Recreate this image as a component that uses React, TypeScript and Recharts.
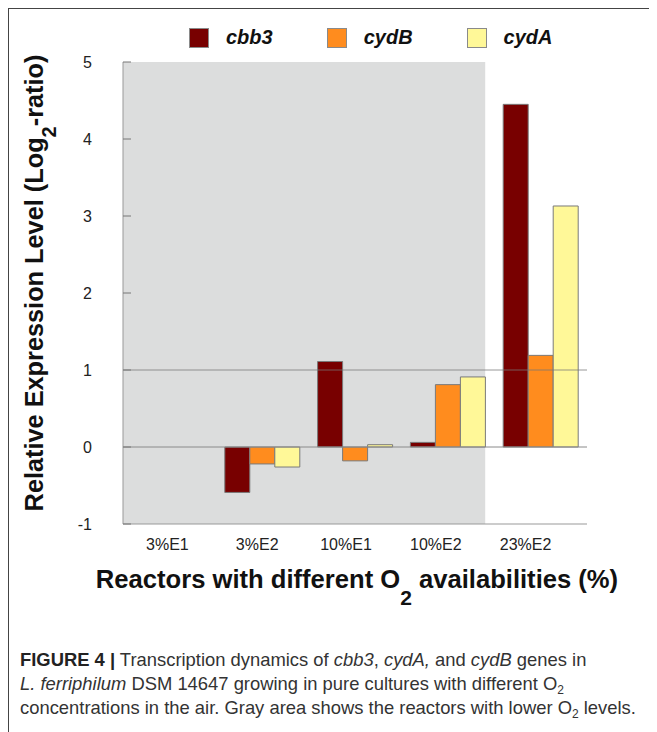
import React from 'react';
import { BarChart, Bar, XAxis, YAxis, ReferenceArea, ReferenceLine, Label } from 'recharts';

const categories = ['3%E1', '3%E2', '10%E1', '10%E2', '23%E2'];
const cbb3 = [0, -0.59, 1.11, 0.06, 4.45];
const cydB = [0, -0.22, -0.18, 0.81, 1.19];
const cydA = [0, -0.26, 0.03, 0.91, 3.13];
const yTicks = [-1, 0, 1, 2, 3, 4, 5];
const seriesNames = ['cbb3', 'cydB', 'cydA'];
const seriesColors = ['#780000', '#FF8C1E', '#FFF898'];
const lowO2Range = ['3%E1', '10%E2'];

const data = categories.map((c, i) => ({ cat: c, cbb3: cbb3[i], cydB: cydB[i], cydA: cydA[i] }));

const FONT = '"Liberation Sans", Arial, sans-serif';
const GAP = 9;

const XTick = (props: any) => {
  const { x, y, payload, index } = props;
  const shift = [-2, -5, -9, -12, -15][index] ?? 0;
  return (
    <text x={x + shift} y={y} dy="0.71em" textAnchor="middle" fontSize={16} fill="#222" fontFamily={FONT}>
      {payload.value}
    </text>
  );
};

const YTitle = (props: any) => {
  const vb = props.viewBox || {};
  const cy = vb.y + vb.height / 2 - 10;
  const x = 34;
  return (
    <text
      x={x}
      y={cy}
      transform={`rotate(-90 ${x} ${cy})`}
      textAnchor="middle"
      fontSize={25.3}
      fontWeight="bold"
      fontFamily={FONT}
      fill="#111"
    >
      <tspan>Relative Expression Level (Log</tspan>
      <tspan dy={13} fontSize={20}>2</tspan>
      <tspan dy={-13}>-ratio)</tspan>
    </text>
  );
};

const XTitle = (props: any) => {
  const vb = props.viewBox || {};
  const cx = vb.x + vb.width / 2 + 2;
  return (
    <text x={cx} y={579} textAnchor="middle" fontSize={25.6} fontWeight="bold" fontFamily={FONT} fill="#111">
      <tspan>Reactors with different O</tspan>
      <tspan dy={17} fontSize={21}>2</tspan>
      <tspan dy={-17}> availabilities (%)</tspan>
    </text>
  );
};

const GrayArea = (props: any) => (
  <rect x={props.x} y={props.y} width={Math.max(0, props.width - GAP)} height={props.height} fill="#DCDDDD" />
);

const Sub = ({ children }: any) => (
  <span style={{ fontSize: 12, position: 'relative', top: 4, lineHeight: 0 }}>{children}</span>
);

export default function App() {
  return (
    <div
      style={{
        position: 'relative',
        width: 649,
        height: 724,
        borderTop: '1px solid #444',
        borderLeft: '1px solid #444',
        boxSizing: 'border-box',
        fontFamily: FONT,
      }}
    >
      <div style={{ position: 'absolute', left: 180, top: 17, display: 'flex', alignItems: 'center', gap: 54 }}>
        {seriesNames.map((n, i) => (
          <div key={n} style={{ display: 'flex', alignItems: 'center' }}>
            <div
              style={{
                width: 18,
                height: 18,
                background: seriesColors[i],
                border: '1px solid #8a8a8a',
                marginRight: 17,
              }}
            />
            <span style={{ fontSize: 20, fontWeight: 'bold', fontStyle: 'italic', color: '#111' }}>{n}</span>
          </div>
        ))}
      </div>
      <BarChart
        width={640}
        height={610}
        data={data}
        margin={{ top: 53, right: 62, left: 54, bottom: 15 }}
        barCategoryGap={GAP}
        barGap={0}
      >
        <ReferenceArea x1={lowO2Range[0]} x2={lowO2Range[1]} shape={GrayArea} ifOverflow="visible" />
        <XAxis
          dataKey="cat"
          height={80}
          axisLine={{ stroke: '#999' }}
          tickLine={false}
          tickSize={0}
          tickMargin={15}
          tick={<XTick />}
          interval={0}
        >
          <Label content={<XTitle />} />
        </XAxis>
        <YAxis
          domain={[-1, 5]}
          ticks={yTicks}
          width={60}
          axisLine={{ stroke: '#999' }}
          tickLine={{ stroke: '#777' }}
          tickSize={-8}
          tickMargin={39}
          tick={{ fontSize: 16, fill: '#222', fontFamily: FONT }}
          allowDataOverflow
        >
          <Label content={<YTitle />} />
        </YAxis>
        <ReferenceLine y={0} stroke="#8a8a8a" />
        {seriesNames.map((n, i) => (
          <Bar key={n} dataKey={n} fill={seriesColors[i]} stroke="#7a7a7a" strokeWidth={1} isAnimationActive={false} />
        ))}
        <ReferenceLine y={1} stroke="#777" strokeOpacity={0.75} />
      </BarChart>
      <div
        style={{
          position: 'absolute',
          left: 11,
          top: 639,
          fontSize: 18.4,
          lineHeight: '24px',
          color: '#333',
          whiteSpace: 'nowrap',
        }}
      >
        <div>
          <b style={{ color: '#222' }}>FIGURE 4 |</b> Transcription dynamics of <i>cbb3</i>, <i>cydA,</i> and <i>cydB</i> genes in
        </div>
        <div>
          <i>L. ferriphilum</i> DSM 14647 growing in pure cultures with different O<Sub>2</Sub>
        </div>
        <div>
          concentrations in the air. Gray area shows the reactors with lower O<Sub>2</Sub> levels.
        </div>
      </div>
    </div>
  );
}
